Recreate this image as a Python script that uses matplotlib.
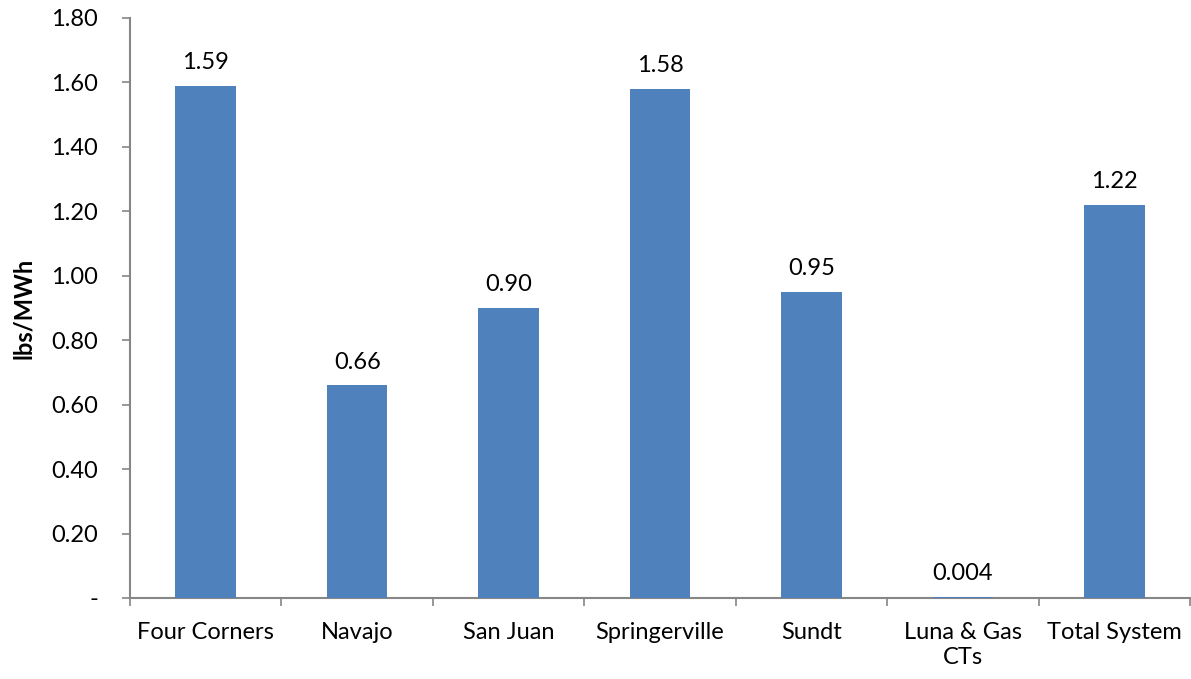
import matplotlib
matplotlib.use("Agg")
import matplotlib.pyplot as plt
from matplotlib.ticker import FixedLocator, FuncFormatter

categories = ["Four Corners", "Navajo", "San Juan", "Springerville", "Sundt",
              "Luna & Gas\nCTs", "Total System"]
values = [1.59, 0.66, 0.90, 1.58, 0.95, 0.004, 1.22]
value_labels = ["1.59", "0.66", "0.90", "1.58", "0.95", "0.004", "1.22"]
y_ticks = [0.0, 0.2, 0.4, 0.6, 0.8, 1.0, 1.2, 1.4, 1.6, 1.8]

plt.rcParams["font.family"] = ["Lato", "DejaVu Sans"]
FS = 17

fig = plt.figure(figsize=(11.91, 6.79), dpi=100)
ax = fig.add_axes([0.1092, 0.1193, 0.8900, 0.8542])

bar_color = "#4F81BD"
axis_color = "#868686"

x = list(range(len(categories)))
ax.bar(x, values, width=0.40, color=bar_color, zorder=3)

for xi, v, lab in zip(x, values, value_labels):
    ax.annotate(lab, (xi, v), xytext=(0, 9), textcoords="offset points",
                ha="center", va="bottom", fontsize=FS, color="black")

ax.set_xlim(-0.5, len(categories) - 0.5)
ax.set_ylim(0, 1.8)

ax.yaxis.set_major_locator(FixedLocator(y_ticks))
ax.yaxis.set_major_formatter(FuncFormatter(lambda v, p: "-" if abs(v) < 1e-9 else f"{v:.2f}"))

ax.set_xticks(x)
ax.set_xticklabels(categories, fontsize=FS, linespacing=1.25)
ax.xaxis.set_minor_locator(FixedLocator([i - 0.5 for i in range(len(categories) + 1)]))
ax.tick_params(axis="x", which="major", length=0, pad=17)
ax.tick_params(axis="x", which="minor", length=6, width=1.2, color=axis_color, direction="out")
ax.tick_params(axis="y", which="major", length=6, width=1.2, color=axis_color,
               direction="out", labelsize=FS, pad=17)

for side in ("top", "right"):
    ax.spines[side].set_visible(False)
for side in ("left", "bottom"):
    ax.spines[side].set_color(axis_color)
    ax.spines[side].set_linewidth(1.5)

ax.set_ylabel("lbs/MWh", fontsize=FS, fontweight="bold", labelpad=12)

fig.savefig("out.png", dpi=100)
